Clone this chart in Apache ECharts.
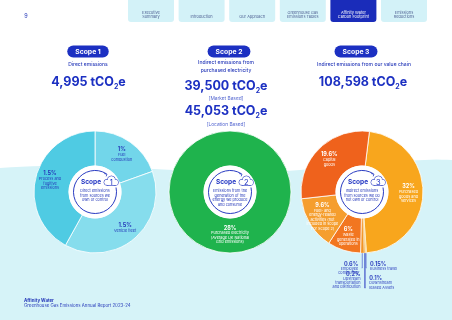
<!DOCTYPE html>
<html>
<head>
<meta charset="utf-8">
<script src="https://cdn.jsdelivr.net/npm/echarts@6/dist/echarts.min.js"></script>
<style>
  html, body { margin: 0; padding: 0; background: #ffffff; }
  #chart { width: 452px; height: 320px; }
</style>
</head>
<body>
<div id="chart"></div>
<script>
/* global echarts */

// ---- data ----
const tabLabels = ["Executive\nSummary", "Introduction", "Our Approach", "Greenhouse Gas\nEmissions Tables", "Affinity Water\nCarbon Footprint", "Emissions\nReductions"];
const activeTab = 4;

const scopeTitles = ["Scope 1", "Scope 2", "Scope 3"];
const scopeSubtitles = ["Direct emissions", "Indirect emissions from\npurchased electricity", "Indirect emissions from our value chain"];
const scopeTotals = ["4,995", "39,500", "108,598"];
const scope2LocationTotal = "45,053";
const scopeBadgeText = [
  "Direct emissions\nfrom sources we\nown or control",
  "Emissions from the\ngeneration of the\nenergy we produce\nand consume",
  "Indirect emissions\nfrom sources we do\nnot own or control",
];

// scope 1 slices (tCO2e)
const scope1Names = ["Fuel\ncombustion", "Vehicle fleet", "Process and\nfugitive\nemissions"];
const scope1Values = [975, 1925, 2095];
const scope1Shares = ["1%", "1.5%", "1.5%"];

// scope 2 slice
const scope2Names = ["Purchased electricity\n(Average UK National\nGrid emissions)"];
const scope2Values = [45053];
const scope2Shares = ["28%"];

// scope 3 slices (% of total footprint)
const scope3Names = [
  "Purchased\ngoods and\nservices",
  "Business travel",
  "Downstream\nleased Assets",
  "Upstream\ntransportation\nand distribution",
  "Employee\ncommuting",
  "Waste\ngenerated in\noperations",
  "Fuel- and\nenergy-related\nactivities (not\nincluded in scope\n1 or Scope 2)",
  "Capital\ngoods",
];
const scope3Values = [32, 0.15, 0.1, 0.2, 0.6, 6, 9.6, 19.6];
const scope3Shares = ["32%", "0.15%", "0.1%", "0.2%", "0.6%", "6%", "9.6%", "19.6%"];

// ---- styling ----
const FONT = "Inter, 'Noto Sans', sans-serif";
const BLUE = "#1c30c2";
const TEXT_BLUE = "#2639b9";
const LINE_BLUE = "#2a3cc2";
const CYAN_BG = "#d6f3f8";
const TAB_BG = "#d3f2f8";
const CENTERS = [[95, 192], [230, 192], [362, 192]];
const RADIUS = [26, 61];
const SCOPE1_COLORS = ["#72d6ea", "#86dded", "#4fcbe3"];
const SCOPE2_COLORS = ["#1fb34d"];
const SCOPE3_COLORS = ["#f8a61d", "#fbbd3c", "#f9b02e", "#f6a11f", "#f39423", "#f27620", "#f59e2e", "#ef621c"];
// leader lines for the thin scope 3 slices
const LEADER_SIDE = [null, "right", "right", "left", "left", null, null, null];
const LEADER_DROP = [0, 15, 35, 35, 15, 0, 0, 0];
const LABEL_SHIFT = [0, -6, -11.6, -16, -6, 0, 0, 0];

const chart = echarts.init(document.getElementById("chart"), null, { renderer: "canvas" });

function pieRich(color, tight) {
  return {
    p: { fontFamily: FONT, fontSize: 5.5, fontWeight: "bold", color, lineHeight: tight ? 4.6 : 6.5 },
    d: { fontFamily: FONT, fontSize: 3.8, color, lineHeight: tight ? 4.3 : 4.4 },
  };
}

function buildPie(idx, names, values, shares, colors, labelColor, startAngle) {
  return {
    type: "pie",
    z: 5,
    center: CENTERS[idx],
    radius: RADIUS,
    startAngle,
    clockwise: true,
    silent: true,
    animation: false,
    avoidLabelOverlap: false,
    itemStyle: { borderColor: "#ffffff", borderWidth: 0.8 },
    label: {
      position: "inside",
      formatter: (p) => `{p|${shares[p.dataIndex]}}\n{d|${names[p.dataIndex]}}`,
      rich: pieRich(labelColor),
    },
    labelLine: { show: false },
    data: names.map((name, i) => ({
      name,
      value: values[i],
      itemStyle: { color: colors[i] },
    })),
  };
}

const scope2Series = buildPie(1, scope2Names, scope2Values, scope2Shares, SCOPE2_COLORS, "#ffffff", 90);
scope2Series.labelLayout = () => ({ dy: -4 });

const scope3Series = buildPie(2, scope3Names, scope3Values, scope3Shares, SCOPE3_COLORS, "#ffffff", 83);
scope3Series.data.forEach((item, i) => {
  if (LEADER_SIDE[i]) {
    item.itemStyle.borderWidth = 0.3;
    item.label = { position: "outside", rich: pieRich("#3446c0", true) };
    item.labelLine = { show: true, length: 5, length2: 2, lineStyle: { color: "#3547c4", width: 0.6 } };
  }
});
scope3Series.labelLayout = (params) => {
  const side = LEADER_SIDE[params.dataIndex];
  if (!side || !params.labelLinePoints) {
    return {};
  }
  const start = params.labelLinePoints[0];
  const endY = start[1] + LEADER_DROP[params.dataIndex];
  const left = side === "left";
  return {
    x: start[0] + (left ? -4 : 4),
    y: endY + LABEL_SHIFT[params.dataIndex],
    align: left ? "right" : "left",
    verticalAlign: "top",
    labelLinePoints: [[start[0], start[1]], [start[0], endY], [start[0] + (left ? -0.5 : 0.5), endY]],
  };
};

// ---- decorative graphics ----
const graphics = [];

// cyan band behind the pies, with a gently waving top edge
function bezierPoints(p0, p1, p2, p3, steps) {
  const pts = [];
  for (let i = 0; i <= steps; i += 1) {
    const t = i / steps;
    const u = 1 - t;
    pts.push([
      u * u * u * p0[0] + 3 * u * u * t * p1[0] + 3 * u * t * t * p2[0] + t * t * t * p3[0],
      u * u * u * p0[1] + 3 * u * u * t * p1[1] + 3 * u * t * t * p2[1] + t * t * t * p3[1],
    ]);
  }
  return pts;
}
const wave = bezierPoints([0, 168], [110, 160], [200, 178], [300, 170], 30)
  .concat(bezierPoints([300, 170], [370, 164], [420, 158], [452, 160], 20))
  .concat([[452, 320], [0, 320]]);
graphics.push({ type: "polygon", z: 0, shape: { points: wave }, style: { fill: CYAN_BG }, silent: true });

tabLabels.forEach((label, i) => {
  const x = 128 + i * 50.6;
  const active = i === activeTab;
  graphics.push({
    type: "rect",
    shape: { x, y: 0, width: 46, height: 22, r: [0, 0, 3, 3] },
    style: { fill: active ? "#1a2cba" : TAB_BG },
    silent: true,
  });
  graphics.push({
    type: "text",
    style: {
      text: label, x: x + 23, y: 19.5, align: "center", verticalAlign: "bottom",
      fontFamily: FONT, fontSize: 3.9, lineHeight: 4.6, fill: active ? "#ffffff" : "#4e5f92",
    },
    silent: true,
  });
});

graphics.push({
  type: "text",
  style: { text: "9", x: 26, y: 16, align: "center", verticalAlign: "middle", fontFamily: FONT, fontSize: 5.5, fill: TEXT_BLUE },
});

function bigNumber(value, x, y) {
  return {
    type: "text",
    style: {
      text: `{n|${value} tCO}{s|2}{n|e}`, x, y, align: "center", verticalAlign: "middle",
      rich: {
        n: { fontFamily: FONT, fontSize: 12.5, fontWeight: "bold", fill: BLUE, lineHeight: 16 },
        s: { fontFamily: FONT, fontSize: 7, fontWeight: "bold", fill: BLUE, lineHeight: 7, verticalAlign: "bottom" },
      },
    },
  };
}

function pill(text, x, y) {
  return {
    type: "text",
    style: {
      text, x, y, align: "center", verticalAlign: "middle",
      fontFamily: FONT, fontSize: 6.8, fontWeight: "bold", fill: "#ffffff",
      backgroundColor: BLUE, padding: [2.5, 8, 2.5, 8], borderRadius: 6,
    },
  };
}

function smallText(text, x, y, size, color, weight) {
  return {
    type: "text",
    style: {
      text, x, y, align: "center", verticalAlign: "top",
      fontFamily: FONT, fontSize: size, lineHeight: size * 1.6, fontWeight: weight || "normal", fill: color,
    },
  };
}

// scope headers
const headerX = [88, 229, 356];
scopeTitles.forEach((title, i) => graphics.push(pill(title, headerX[i], 51.5)));
graphics.push(smallText(scopeSubtitles[0], 88, 60, 5, TEXT_BLUE, 500));
graphics.push(smallText(scopeSubtitles[1], 226, 58.5, 5, TEXT_BLUE, 500));
graphics.push(smallText(scopeSubtitles[2], 364, 60, 5, TEXT_BLUE, 500));
graphics.push(bigNumber(scopeTotals[0], 88.5, 82));
graphics.push(bigNumber(scopeTotals[1], 226, 86));
graphics.push(smallText("[Market Based]", 226, 95, 4.8, "#5063cf"));
graphics.push(bigNumber(scope2LocationTotal, 226, 111.5));
graphics.push(smallText("[Location Based]", 226, 120.5, 4.8, "#5063cf"));
graphics.push(bigNumber(scopeTotals[2], 363, 82));

// centre badges: white disc, looping arrow, cloud with the scope number
function cloud(x, y) {
  const bumps = [[-4, 1.3, 3], [0.4, -1, 4], [4.4, 1.4, 3]];
  const items = [];
  bumps.forEach(([dx, dy, r]) => {
    items.push({ type: "circle", z: 12, shape: { cx: x + dx, cy: y + dy, r }, style: { fill: "#ffffff", stroke: LINE_BLUE, lineWidth: 0.8 } });
  });
  items.push({ type: "rect", z: 12, shape: { x: x - 4, y: y + 1, width: 8.4, height: 3.3 }, style: { fill: "#ffffff", stroke: LINE_BLUE, lineWidth: 0.8 } });
  bumps.forEach(([dx, dy, r]) => {
    items.push({ type: "circle", z: 12.5, shape: { cx: x + dx, cy: y + dy, r: r - 0.45 }, style: { fill: "#ffffff" } });
  });
  items.push({ type: "rect", z: 12.5, shape: { x: x - 4, y: y + 0.4, width: 8.4, height: 3.5 }, style: { fill: "#ffffff" } });
  return items;
}

function badge(idx) {
  const [cx, cy] = CENTERS[idx];
  const items = [];
  items.push({ type: "circle", z: 10, shape: { cx, cy, r: 26.5 }, style: { fill: "#ffffff" } });
  items.push({
    type: "arc", z: 11,
    shape: { cx, cy, r: 21.5, startAngle: (-12 * Math.PI) / 180, endAngle: (302 * Math.PI) / 180, clockwise: true },
    style: { stroke: LINE_BLUE, lineWidth: 1, fill: null },
  });
  const a = (302 * Math.PI) / 180;
  const ex = cx + 21.5 * Math.cos(a);
  const ey = cy + 21.5 * Math.sin(a);
  items.push({
    type: "polyline", z: 11,
    shape: { points: [[ex - 2.2, ey - 0.2], [ex + 0.6, ey + 0.4], [ex - 0.2, ey + 2.6]] },
    style: { stroke: LINE_BLUE, lineWidth: 0.8, fill: null },
  });
  items.push(...cloud(cx + 16, cy - 11));
  items.push({
    type: "text", z: 13,
    style: { text: String(idx + 1), x: cx + 16.3, y: cy - 9.5, align: "center", verticalAlign: "middle", fontFamily: FONT, fontSize: 7.5, fill: BLUE },
  });
  items.push({
    type: "text", z: 13,
    style: { text: "Scope", x: cx - 4, y: cy - 10, align: "center", verticalAlign: "middle", fontFamily: FONT, fontSize: 6.5, fontWeight: "bold", fill: BLUE },
  });
  items.push({
    type: "text", z: 13,
    style: {
      text: scopeBadgeText[idx], x: cx, y: cy - 3, align: "center", verticalAlign: "top",
      fontFamily: FONT, fontSize: 3.8, lineHeight: 4.4, fill: TEXT_BLUE,
    },
  });
  return items;
}
[0, 1, 2].forEach((i) => graphics.push(...badge(i)));

// footer
graphics.push({
  type: "text",
  style: { text: "Affinity Water", x: 24, y: 301, verticalAlign: "middle", fontFamily: FONT, fontSize: 4.4, fontWeight: "bold", fill: TEXT_BLUE },
});
graphics.push({
  type: "text",
  style: { text: "Greenhouse Gas Emissions Annual Report 2023-24", x: 24, y: 306, verticalAlign: "middle", fontFamily: FONT, fontSize: 4.4, fill: TEXT_BLUE },
});

chart.setOption({
  animation: false,
  graphic: { elements: graphics },
  series: [
    buildPie(0, scope1Names, scope1Values, scope1Shares, SCOPE1_COLORS, TEXT_BLUE, 90),
    scope2Series,
    scope3Series,
  ],
});
</script>
</body>
</html>
